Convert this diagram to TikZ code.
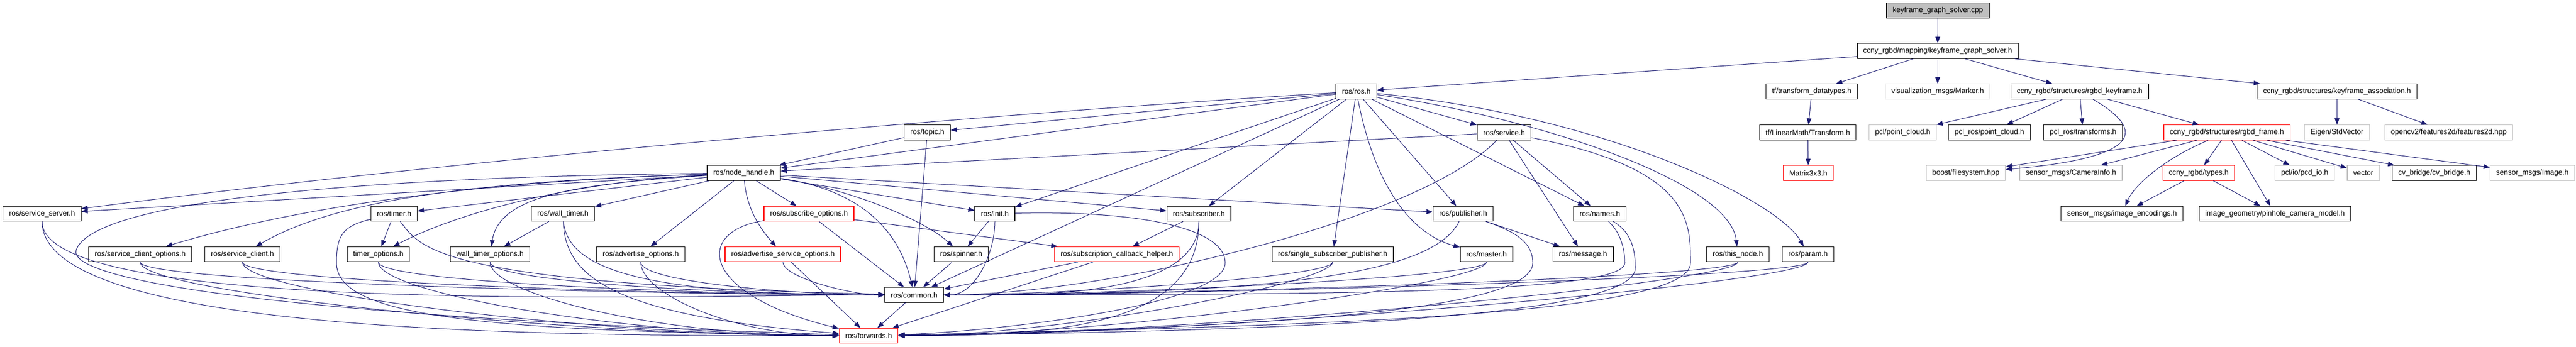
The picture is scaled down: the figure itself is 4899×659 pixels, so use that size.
\documentclass[tikz,border=0pt]{standalone}
\usepackage{fontspec}
\setmainfont{Liberation Sans}
\usetikzlibrary{arrows.meta}
\definecolor{edgeblue}{HTML}{191970}
\definecolor{boxgray}{HTML}{BFBFBF}

\begin{document}
\begin{tikzpicture}[x=1pt, y=1pt,
    font=\fontsize{14}{16}\selectfont,
    hdr/.style={draw=black, line width=1.2pt, fill=white, inner xsep=11.5pt, inner ysep=0pt, minimum height=28.5pt},
    hdrred/.style={hdr, draw=red},
    hdrgray/.style={hdr, draw=boxgray},
    hdrroot/.style={hdr, fill=boxgray},
    inc/.style={draw=edgeblue, line width=1pt, -{Triangle[length=12pt, width=9pt]}}]
  \useasboundingbox (0,0) rectangle (4899,659);

  \node[hdrroot] (cpp) at (3685.5,639) {keyframe\_graph\_solver.cpp};
  \node[hdr] (mapping) at (3685,562) {ccny\_rgbd/mapping/keyframe\_graph\_solver.h};

  \node[hdr] (ros) at (2579.5,485) {ros/ros.h};
  \node[hdr] (tfdt) at (3445.5,485) {tf/transform\_datatypes.h};
  \node[hdrgray] (marker) at (3685,485) {visualization\_msgs/Marker.h};
  \node[hdr] (keyframe) at (3955,485) {ccny\_rgbd/structures/rgbd\_keyframe.h};
  \node[hdr] (assoc) at (4444.5,485) {ccny\_rgbd/structures/keyframe\_association.h};

  \node[hdr] (topic) at (1763.5,407) {ros/topic.h};
  \node[hdr] (service) at (2860.5,407) {ros/service.h};
  \node[hdr] (transform) at (3438,407) {tf/LinearMath/Transform.h};
  \node[hdrgray] (pclpc) at (3618.5,407) {pcl/point\_cloud.h};
  \node[hdr] (pclrospc) at (3783.5,407) {pcl\_ros/point\_cloud.h};
  \node[hdr] (pclrostf) at (3961.5,407) {pcl\_ros/transforms.h};
  \node[hdrred] (frame) at (4235,407) {ccny\_rgbd/structures/rgbd\_frame.h};
  \node[hdrgray] (stdvector) at (4444.5,407) {Eigen/StdVector};
  \node[hdrgray] (features) at (4657,407) {opencv2/features2d/features2d.hpp};

  \node[hdr] (nodehandle) at (1414.5,330) {ros/node\_handle.h};
  \node[hdrred] (matrix) at (3439,330) {Matrix3x3.h};
  \node[hdrgray] (boostfs) at (3738.5,330) {boost/filesystem.hpp};
  \node[hdrgray] (caminfo) at (3938.5,330) {sensor\_msgs/CameraInfo.h};
  \node[hdrred] (types) at (4181.5,330) {ccny\_rgbd/types.h};
  \node[hdrgray] (pcdio) at (4383,330) {pcl/io/pcd\_io.h};
  \node[hdrgray] (vector) at (4494.5,330) {vector};
  \node[hdr] (cvbridge) at (4629.5,330) {cv\_bridge/cv\_bridge.h};
  \node[hdrgray] (image) at (4816,330) {sensor\_msgs/Image.h};

  \node[hdr] (serviceserver) at (80,252.5) {ros/service\_server.h};
  \node[hdr] (timer) at (749.5,252.5) {ros/timer.h};
  \node[hdr] (walltimer) at (1070.5,252.5) {ros/wall\_timer.h};
  \node[hdrred] (subopts) at (1538.5,252.5) {ros/subscribe\_options.h};
  \node[hdr] (init) at (1892,252.5) {ros/init.h};
  \node[hdr] (subscriber) at (2280,252.5) {ros/subscriber.h};
  \node[hdr] (publisher) at (2782.5,252.5) {ros/publisher.h};
  \node[hdr] (names) at (3042.5,252.5) {ros/names.h};
  \node[hdr] (imgenc) at (4035.5,252.5) {sensor\_msgs/image\_encodings.h};
  \node[hdr] (pinhole) at (4326.5,252.5) {image\_geometry/pinhole\_camera\_model.h};

  \node[hdr] (srvclientopts) at (266.5,175.5) {ros/service\_client\_options.h};
  \node[hdr] (serviceclient) at (461,175.5) {ros/service\_client.h};
  \node[hdr] (timeropts) at (719.5,175.5) {timer\_options.h};
  \node[hdr] (walltimeropts) at (932,175.5) {wall\_timer\_options.h};
  \node[hdr] (advopts) at (1218.5,175.5) {ros/advertise\_options.h};
  \node[hdrred] (advsrvopts) at (1489,175.5) {ros/advertise\_service\_options.h};
  \node[hdr] (spinner) at (1828,175.5) {ros/spinner.h};
  \node[hdrred] (subcbhelper) at (2124,175.5) {ros/subscription\_callback\_helper.h};
  \node[hdr] (ssp) at (2534.5,175.5) {ros/single\_subscriber\_publisher.h};
  \node[hdr] (master) at (2827,175.5) {ros/master.h};
  \node[hdr] (message) at (3010.5,175.5) {ros/message.h};
  \node[hdr] (thisnode) at (3305,175.5) {ros/this\_node.h};
  \node[hdr] (param) at (3438.5,175.5) {ros/param.h};

  \node[hdr] (common) at (1738.5,98) {ros/common.h};
  \node[hdrred] (forwards) at (1652,20.5) {ros/forwards.h};

  \draw[inc] (cpp) -- (mapping);
  \draw[inc] (mapping) -- (ros);
  \draw[inc] (mapping) -- (tfdt);
  \draw[inc] (mapping) -- (marker);
  \draw[inc] (mapping) -- (keyframe);
  \draw[inc] (mapping) -- (assoc);
  \draw[inc] (tfdt) -- (transform);
  \draw[inc] (transform) -- (matrix);
  \draw[inc] (keyframe) -- (pclpc);
  \draw[inc] (keyframe) -- (pclrospc);
  \draw[inc] (keyframe) -- (pclrostf);
  \draw[inc] (keyframe) .. controls (4085,409) and (4070,359) .. (boostfs);
  \draw[inc] (keyframe) -- (frame);
  \draw[inc] (frame) -- (boostfs);
  \draw[inc] (frame) -- (caminfo);
  \draw[inc] (frame) -- (types);
  \draw[inc] (frame) .. controls (4120,359) and (4060,309) .. (imgenc);
  \draw[inc] (frame) -- (pinhole);
  \draw[inc] (frame) -- (pcdio);
  \draw[inc] (frame) -- (vector);
  \draw[inc] (frame) -- (cvbridge);
  \draw[inc] (frame) -- (image);
  \draw[inc] (types) -- (imgenc);
  \draw[inc] (types) -- (pinhole);
  \draw[inc] (assoc) -- (stdvector);
  \draw[inc] (assoc) -- (features);

  \draw[inc] (ros) -- (nodehandle);
  \draw[inc] (ros) -- (topic);
  \draw[inc] (ros) -- (service);
  \draw[inc] (ros) -- (init);
  \draw[inc] (ros) -- (subscriber);
  \draw[inc] (ros) -- (publisher);
  \draw[inc] (ros) -- (names);
  \draw[inc] (ros) -- (ssp);
  \draw[inc] (ros) -- (common);
  \draw[inc] (ros) .. controls (1900,444) and (900,359) .. (serviceserver);
  \draw[inc] (ros) .. controls (2620,279) and (2700,209) .. (master);
  \draw[inc] (ros) .. controls (2950,429) and (3290,309) .. (thisnode);
  \draw[inc] (ros) .. controls (3050,439) and (3380,279) .. (param);

  \draw[inc] (topic) -- (nodehandle);
  \draw[inc] (topic) -- (common);
  \draw[inc] (service) -- (nodehandle);
  \draw[inc] (service) -- (names);
  \draw[inc] (service) -- (message);
  \draw[inc] (service) .. controls (2700,239) and (2100,99) .. (common);
  \draw[inc] (service) .. controls (3215,339) and (3215,239) .. (3215,159)
    .. controls (3215,59) and (2500,39) .. (forwards);

  \draw[inc] (nodehandle) -- (serviceserver);
  \draw[inc] (nodehandle) -- (timer);
  \draw[inc] (nodehandle) -- (walltimer);
  \draw[inc] (nodehandle) -- (subopts);
  \draw[inc] (nodehandle) -- (advopts);
  \draw[inc] (nodehandle) -- (init);
  \draw[inc] (nodehandle) -- (subscriber);
  \draw[inc] (nodehandle) -- (publisher);
  \draw[inc] (nodehandle) .. controls (1420,259) and (1450,219) .. (advsrvopts);
  \draw[inc] (nodehandle) .. controls (1100,309) and (950,289) .. (walltimeropts);
  \draw[inc] (nodehandle) .. controls (1100,314) and (880,259) .. (timeropts);
  \draw[inc] (nodehandle) .. controls (900,314) and (560,264) .. (srvclientopts);
  \draw[inc] (nodehandle) .. controls (900,314) and (640,279) .. (serviceclient);
  \draw[inc] (nodehandle) .. controls (1620,299) and (1760,239) .. (spinner);
  \draw[inc] (nodehandle) .. controls (1660,294) and (1715,199) .. (common);
  \draw[inc] (nodehandle) .. controls (800,324) and (185,289) .. (145,184)
    .. controls (125,129) and (500,59) .. (forwards);

  \draw[inc] (serviceserver.south) .. controls +(0,-180) and +(-400,0) .. (common.west);
  \draw[inc] (serviceserver.south) .. controls +(0,-220) and +(-500,0) .. (forwards.west);
  \draw[inc] (timer) -- (timeropts);
  \draw[inc] (timer) .. controls (800,189) and (820,119) .. (common);
  \draw[inc] (timer) .. controls (650,229) and (640,209) .. (640,159)
    .. controls (640,59) and (900,29) .. (forwards);
  \draw[inc] (walltimer) -- (walltimeropts);
  \draw[inc] (walltimer) .. controls (1080,139) and (1250,99) .. (common);
  \draw[inc] (walltimer) .. controls (1075,139) and (1150,59) .. (forwards);
  \draw[inc] (subopts) -- (subcbhelper);
  \draw[inc] (subopts) -- (common);
  \draw[inc] (subopts) .. controls (1320,219) and (1330,99) .. (forwards);
  \draw[inc] (init) -- (spinner);
  \draw[inc] (init.south) .. controls +(0,-60) and +(60,0) .. (common.east);
  \draw[inc] (init) .. controls (2150,259) and (2330,229) .. (2330,159)
    .. controls (2330,79) and (1900,29) .. (forwards);
  \draw[inc] (subscriber) -- (subcbhelper);
  \draw[inc] (subscriber.south) .. controls +(0,-150) and +(150,0) .. (common.east);
  \draw[inc] (subscriber.south) .. controls +(0,-200) and +(300,0) .. (forwards.east);
  \draw[inc] (publisher) -- (message);
  \draw[inc] (publisher) .. controls (2730,149) and (2500,99) .. (common);
  \draw[inc] (publisher) .. controls (2880,219) and (2915,199) .. (2915,159)
    .. controls (2915,59) and (2300,34) .. (forwards);
  \draw[inc] (names) .. controls (3080,219) and (3090,189) .. (3090,159)
    .. controls (3090,99) and (2500,99) .. (common);
  \draw[inc] (names) .. controls (3100,219) and (3110,189) .. (3110,149)
    .. controls (3110,59) and (2500,29) .. (forwards);

  \draw[inc] (srvclientopts.south) .. controls +(0,-40) and +(-400,0) .. (common.west);
  \draw[inc] (srvclientopts.south) .. controls +(0,-60) and +(-500,0) .. (forwards.west);
  \draw[inc] (serviceclient.south) .. controls +(0,-40) and +(-350,0) .. (common.west);
  \draw[inc] (serviceclient.south) .. controls +(0,-60) and +(-450,0) .. (forwards.west);
  \draw[inc] (timeropts.south) .. controls +(0,-40) and +(-300,0) .. (common.west);
  \draw[inc] (timeropts.south) .. controls +(0,-60) and +(-400,0) .. (forwards.west);
  \draw[inc] (walltimeropts.south) .. controls +(0,-40) and +(-250,0) .. (common.west);
  \draw[inc] (walltimeropts.south) .. controls +(0,-60) and +(-350,0) .. (forwards.west);
  \draw[inc] (advopts.south) .. controls +(0,-40) and +(-150,0) .. (common.west);
  \draw[inc] (advopts.south) .. controls +(0,-60) and +(-200,0) .. (forwards.west);
  \draw[inc] (advsrvopts.south) .. controls +(0,-30) and +(-60,0) .. (common.west);
  \draw[inc] (advsrvopts) -- (forwards);
  \draw[inc] (spinner) -- (common);
  \draw[inc] (subcbhelper) -- (common);
  \draw[inc] (subcbhelper) -- (forwards);
  \draw[inc] (ssp.south) .. controls +(0,-30) and +(200,0) .. (common.east);
  \draw[inc] (ssp.south) .. controls +(0,-40) and +(300,0) .. (forwards.east);
  \draw[inc] (master.south) .. controls +(0,-30) and +(300,0) .. (common.east);
  \draw[inc] (master.south) .. controls +(0,-40) and +(400,0) .. (forwards.east);
  \draw[inc] (thisnode.south) .. controls +(0,-30) and +(400,0) .. (common.east);
  \draw[inc] (thisnode.south) .. controls +(0,-40) and +(500,0) .. (forwards.east);
  \draw[inc] (param.south) .. controls +(0,-30) and +(450,0) .. (common.east);
  \draw[inc] (param.south) .. controls +(0,-40) and +(550,0) .. (forwards.east);
  \draw[inc] (common) -- (forwards);
\end{tikzpicture}
\end{document}
